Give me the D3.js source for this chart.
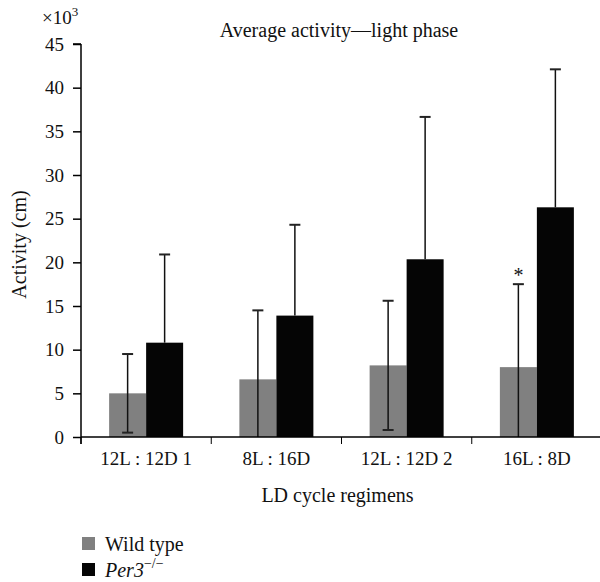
<!DOCTYPE html>
<html>
<head>
<meta charset="utf-8">
<script src="https://cdn.jsdelivr.net/npm/d3@7"></script>
<style>
  body { margin: 0; background: #fff; }
  text { font-family: "Liberation Serif", "DejaVu Serif", serif; fill: #111; }
</style>
</head>
<body>
<div id="chart"></div>
<script>
const categories = ['12L : 12D 1', '8L : 16D', '12L : 12D 2', '16L : 8D']
const seriesNames = ['Wild type', 'Per3']
const wildMeans = [5.0, 6.6, 8.2, 8.0]
const wildSD = [4.5, 7.9, 7.4, 9.5]
const perMeans = [10.8, 13.9, 20.35, 26.3]
const perSD = [10.1, 10.4, 16.3, 15.8]
const yTicks = [0, 5, 10, 15, 20, 25, 30, 35, 40, 45]
const starred = [{ series: 'Wild type', cat: '16L : 8D' }]

const config = {
    width: 600,
    height: 582,
    left: 81,
    plotRight: 602,
    top: 44,
    bottom: 437,
    barWidth: 37,
    capWidth: 11,
}

const colors = { 'Wild type': '#808080', 'Per3': '#050505' }

const svg = d3.select('#chart')
    .append('svg')
    .attr('width', config.width)
    .attr('height', config.height)

const x0 = d3.scaleBand()
    .domain(categories)
    .range([config.left, config.plotRight])
    .padding(0)

const bw = x0.bandwidth()
const x1 = d3.scaleBand()
    .domain(seriesNames)
    .range([bw / 2 - config.barWidth, bw / 2 + config.barWidth])
    .padding(0)

const y = d3.scaleLinear()
    .domain([0, 45])
    .range([config.bottom, config.top])

const rows = []
categories.forEach((c, i) => {
    rows.push({ cat: c, series: 'Wild type', mean: wildMeans[i], sd: wildSD[i] })
    rows.push({ cat: c, series: 'Per3', mean: perMeans[i], sd: perSD[i] })
})

// bars
svg.append('g')
    .selectAll('rect')
    .data(rows)
    .enter()
    .append('rect')
    .attr('x', d => x0(d.cat) + x1(d.series))
    .attr('y', d => y(d.mean))
    .attr('width', x1.bandwidth())
    .attr('height', d => y(0) - y(d.mean))
    .attr('fill', d => colors[d.series])

// error bars (lower half hidden inside the black bars anyway)
const errG = svg.append('g')
rows.forEach(d => {
    const cx = x0(d.cat) + x1(d.series) + x1.bandwidth() / 2
    const hi = d.mean + d.sd
    const showLow = d.series === 'Wild type'
    const lo = showLow ? Math.max(0, d.mean - d.sd) : d.mean
    errG.append('line')
        .attr('x1', cx).attr('x2', cx)
        .attr('y1', y(hi)).attr('y2', y(lo))
        .attr('stroke', '#111')
        .attr('stroke-width', 1.5)
    errG.append('line')
        .attr('x1', cx - config.capWidth / 2).attr('x2', cx + config.capWidth / 2)
        .attr('y1', y(hi)).attr('y2', y(hi))
        .attr('stroke', '#222')
        .attr('stroke-width', 2)
    if (showLow && d.mean - d.sd > 0) {
        errG.append('line')
            .attr('x1', cx - config.capWidth / 2).attr('x2', cx + config.capWidth / 2)
            .attr('y1', y(lo)).attr('y2', y(lo))
            .attr('stroke', '#222')
            .attr('stroke-width', 2)
    }
})

// significance star
starred.forEach(s => {
    const d = rows.find(r => r.cat === s.cat && r.series === s.series)
    svg.append('text')
        .attr('x', x0(d.cat) + x1(d.series) + x1.bandwidth() / 2)
        .attr('y', y(d.mean + d.sd) - 2)
        .attr('text-anchor', 'middle')
        .attr('font-size', '20px')
        .text('*')
})

// axes
const yAxis = d3.axisLeft(y)
    .tickValues(yTicks)
    .tickSize(8)
    .tickPadding(9)
const yAxisGroup = svg.append('g')
    .attr('transform', `translate(${config.left}, 0)`)
    .call(yAxis)
yAxisGroup.select('.domain').attr('d', `M0,${config.top}H-8M0,${config.top}V${config.bottom + 7}`)

const xAxis = d3.axisBottom(x0)
    .tickSize(0)
    .tickPadding(15)
const xAxisGroup = svg.append('g')
    .attr('transform', `translate(0, ${config.bottom})`)
    .call(xAxis)
xAxisGroup.select('.domain').attr('d', `M${config.left},0H${config.plotRight}`)
xAxisGroup.selectAll('.tickmark')
    .data(categories)
    .enter()
    .append('line')
    .attr('x1', d => x0(d)).attr('x2', d => x0(d))
    .attr('y1', 0).attr('y2', 7)
    .attr('stroke', '#000')

svg.selectAll('.domain, .tick line')
    .attr('stroke', '#000')
    .attr('stroke-width', 1.5)
svg.selectAll('.tick text')
    .attr('font-size', '19px')
    .attr('font-family', '"Liberation Serif", serif')
    .attr('fill', '#111')

// titles
svg.append('text')
    .attr('x', 339)
    .attr('y', 37)
    .attr('text-anchor', 'middle')
    .attr('font-size', '20px')
    .text('Average activity\u2014light phase')

const mult = svg.append('text')
    .attr('x', 42)
    .attr('y', 24)
    .attr('font-size', '19px')
mult.append('tspan').text('\u00d710')
mult.append('tspan').attr('dy', -8).attr('font-size', '13px').text('3')

svg.append('text')
    .attr('transform', `translate(26, ${(config.top + config.bottom) / 2 + 4}) rotate(-90)`)
    .attr('text-anchor', 'middle')
    .attr('font-size', '20px')
    .text('Activity (cm)')

svg.append('text')
    .attr('x', (config.left + config.plotRight) / 2 - 4)
    .attr('y', 502)
    .attr('text-anchor', 'middle')
    .attr('font-size', '20px')
    .text('LD cycle regimens')

// legend
const legend = svg.append('g').attr('transform', 'translate(82, 537)')
seriesNames.forEach((s, i) => {
    const g = legend.append('g').attr('transform', `translate(0, ${i * 26})`)
    g.append('rect')
        .attr('width', 13)
        .attr('height', 13)
        .attr('fill', colors[s])
    const t = g.append('text')
        .attr('x', 23)
        .attr('y', 14)
        .attr('font-size', '20px')
    if (s === 'Per3') {
        t.append('tspan').attr('font-style', 'italic').text('Per3')
        t.append('tspan').attr('dy', -9).attr('font-size', '14px').text('\u2212/\u2212')
    } else {
        t.text(s)
    }
})
</script>
</body>
</html>
